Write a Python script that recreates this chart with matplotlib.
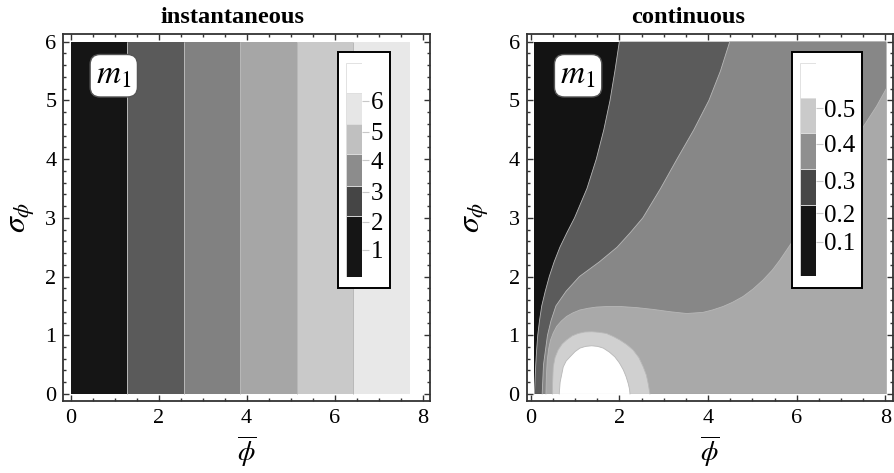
import numpy as np
import matplotlib
matplotlib.use("Agg")
import matplotlib.pyplot as plt
from matplotlib.ticker import MultipleLocator
from matplotlib.patches import Rectangle

plt.rcParams['font.family'] = ['Liberation Serif', 'DejaVu Serif']
plt.rcParams['mathtext.fontset'] = 'stix'

# ---- instantaneous: m1 bands along phi-bar ----
phi_edges = [0, 1.285, 2.57, 3.855, 5.14, 6.425, 7.71]
m1_levels = [1, 2, 3, 4, 5, 6]
band_colors = ['#151515', '#5a5a5a', '#818181', '#a6a6a6', '#c9c9c9', '#e8e8e8']
sigma_max = 6

# ---- continuous: contour boundaries (phi-bar, sigma) ----
x_lo, x_hi = 0.07, 8.02
b1_y = [0, 0.25, 0.5, 0.75, 1.0, 1.25, 1.5, 1.75, 2.0, 2.25, 2.5, 2.75, 3.0,
        3.5, 4.0, 4.5, 5.0, 5.5, 6.0]
b1_x = [0.085, 0.10, 0.115, 0.135, 0.16, 0.20, 0.25, 0.33, 0.42, 0.53, 0.66, 0.82,
        0.99, 1.27, 1.48, 1.65, 1.79, 1.90, 2.0]
b2_y = [0, 0.5, 1.0, 1.25, 1.5, 1.75, 2.0, 2.25, 2.5, 2.75, 3.0, 3.5, 4.0,
        4.5, 5.0, 5.5, 6.0]
b2_x = [0.26, 0.29, 0.38, 0.46, 0.57, 0.80, 1.10, 1.55, 1.95, 2.25, 2.53, 2.93,
        3.30, 3.68, 4.02, 4.28, 4.49]
b3_x = [0.345, 0.355, 0.375, 0.41, 0.45, 0.51, 0.586, 0.69, 0.81, 0.95, 1.11, 1.30,
        1.49, 1.75, 2.01, 2.40, 2.76, 3.15, 3.52, 3.89, 4.10, 4.34, 4.55, 4.79,
        5.02, 5.24, 5.45, 5.62, 5.88, 6.20, 6.60, 7.00, 7.50, 7.80, 8.02]
b3_y = [0, 0.30, 0.58, 0.78, 0.92, 1.04, 1.15, 1.24, 1.32, 1.38, 1.43, 1.46,
        1.48, 1.49, 1.49, 1.47, 1.44, 1.40, 1.37, 1.39, 1.43, 1.49, 1.56, 1.66,
        1.79, 1.94, 2.11, 2.28, 2.57, 2.95, 3.45, 3.95, 4.55, 4.90, 5.20]
ring_x = [0.49, 0.495, 0.51, 0.55, 0.62, 0.71, 0.81, 0.94, 1.07, 1.22, 1.375, 1.54,
          1.71, 1.86, 2.01, 2.17, 2.31, 2.44, 2.54, 2.61, 2.65, 2.69]
ring_y = [0, 0.20, 0.46, 0.62, 0.75, 0.85, 0.92, 0.99, 1.03, 1.055, 1.06, 1.05,
          1.03, 0.98, 0.92, 0.84, 0.75, 0.62, 0.46, 0.32, 0.18, 0]
blob_x = [0.645, 0.665, 0.735, 0.80, 0.886, 1.0, 1.11, 1.24, 1.375, 1.51, 1.64,
          1.78, 1.90, 2.0, 2.09, 2.15, 2.20, 2.23, 2.24]
blob_y = [0, 0.20, 0.46, 0.56, 0.63, 0.72, 0.78, 0.81, 0.82, 0.81, 0.78,
          0.71, 0.63, 0.53, 0.41, 0.30, 0.18, 0.08, 0]
region_colors = ['#131313', '#5b5b5b', '#878787', '#a9a9a9', '#d0d0d0', '#ffffff']
m1_cont_levels = [0.1, 0.2, 0.3, 0.4, 0.5]

fig = plt.figure(figsize=(8.94, 4.73), dpi=100)
ax1 = fig.add_axes([0.0708, 0.153, 0.4102, 0.775])
ax2 = fig.add_axes([0.5891, 0.153, 0.4097, 0.775])

line_c = '#b8b8b8'

# left panel
widths = np.diff(phi_edges)
ax1.bar(phi_edges[:-1], sigma_max, width=widths, bottom=0, align='edge',
        color=band_colors, linewidth=0)
ax1.vlines(phi_edges[1:-1], 0, sigma_max, color=line_c, lw=0.7)

# right panel, painted from lowest level upward
ax2.fill([x_lo, x_hi, x_hi, x_lo], [0, 0, 6, 6], color=region_colors[0], lw=0)
ax2.fill(b1_x + [x_hi, x_hi], b1_y + [6, 0], color=region_colors[1], lw=0)
ax2.fill(b2_x + [x_hi, x_hi], b2_y + [6, 0], color=region_colors[2], lw=0)
ax2.fill(b3_x + [x_hi], b3_y + [0], color=region_colors[3], lw=0)
ax2.fill(ring_x, ring_y, color=region_colors[4], lw=0)
ax2.fill(blob_x, blob_y, color=region_colors[5], lw=0)
for bx, by in [(b1_x, b1_y), (b2_x, b2_y), (b3_x, b3_y), (ring_x, ring_y), (blob_x, blob_y)]:
    ax2.plot(bx, by, color=line_c, lw=0.6, solid_joinstyle='round')

for ax, xl, mx in [(ax1, (-0.168, 8.17), 0.98), (ax2, (-0.09, 8.17), 1.07)]:
    ax.set_xlim(*xl)
    ax.set_ylim(-0.114, 6.13)
    ax.xaxis.set_major_locator(MultipleLocator(2))
    ax.xaxis.set_minor_locator(MultipleLocator(0.5))
    ax.yaxis.set_major_locator(MultipleLocator(1))
    ax.yaxis.set_minor_locator(MultipleLocator(0.2))
    ax.tick_params(which='both', direction='in', top=True, right=True,
                   color='#333333', width=1.0, labelsize=16)
    ax.tick_params(which='major', length=4.5)
    ax.tick_params(which='minor', length=2.5)
    ax.tick_params(axis='x', pad=6)
    ax.tick_params(axis='y', pad=5)
    for s in ax.spines.values():
        s.set_color('#333333')
        s.set_linewidth(1.3)
    ax.text(0.5, -0.138, r'$\overline{\phi}$', transform=ax.transAxes,
            ha='center', va='center', fontsize=20)
    ax.text(mx, 5.42, r'$m_1$', ha='center', va='center', fontsize=24,
            bbox=dict(boxstyle='round,pad=0.18,rounding_size=0.3', fc='white',
                      ec='#555555', lw=1.0))

ax1.text(-0.112, 0.5, r'$\sigma_\phi$', transform=ax1.transAxes, rotation=90,
         ha='center', va='center', fontsize=23)
ax2.text(-0.138, 0.5, r'$\sigma_\phi$', transform=ax2.transAxes, rotation=90,
         ha='center', va='center', fontsize=23)

fig.text(232 / 894, 0.962, 'instantaneous', ha='center', va='center',
         fontsize=17.6, fontweight='bold')
fig.text(688 / 894, 0.962, 'continuous', ha='center', va='center',
         fontsize=17.6, fontweight='bold')


def legend(ax, box, bar, edges, colors, ticks, labels):
    ax.add_patch(Rectangle((box[0], box[1]), box[2], box[3], transform=ax.transAxes,
                           fc='white', ec='black', lw=1.4, zorder=5))
    lax = ax.inset_axes(bar)
    lax.set_zorder(6)
    lax.bar(0, np.diff(edges), bottom=edges[:-1], width=1, align='edge',
            color=colors, edgecolor='#dddddd', linewidth=0.6)
    lax.set_xlim(0, 1)
    lax.set_ylim(0, 1)
    for s in lax.spines.values():
        s.set_visible(False)
    lax.set_xticks([])
    lax.yaxis.tick_right()
    lax.set_yticks(ticks)
    lax.set_yticklabels(labels)
    lax.tick_params(axis='y', length=5, width=0.8, color='#c8c8c8', pad=1, labelsize=18)


legend(ax1, (0.749, 0.307, 0.142, 0.643), [0.772, 0.338, 0.043, 0.584],
       [0, 0.285, 0.425, 0.573, 0.714, 0.860, 1.0],
       ['#151515', '#454545', '#8c8c8c', '#c0c0c0', '#e6e6e6', '#ffffff'],
       [0.125, 0.257, 0.397, 0.545, 0.678, 0.821], [str(v) for v in m1_levels])
legend(ax2, (0.725, 0.306, 0.190, 0.646), [0.7475, 0.340, 0.0425, 0.582],
       [0, 0.333, 0.5, 0.669, 0.833, 1.0],
       ['#151515', '#474747', '#8f8f8f', '#cacaca', '#ffffff'],
       [0.161, 0.294, 0.447, 0.619, 0.787], [str(v) for v in m1_cont_levels])

fig.savefig('out.png', dpi=100)
